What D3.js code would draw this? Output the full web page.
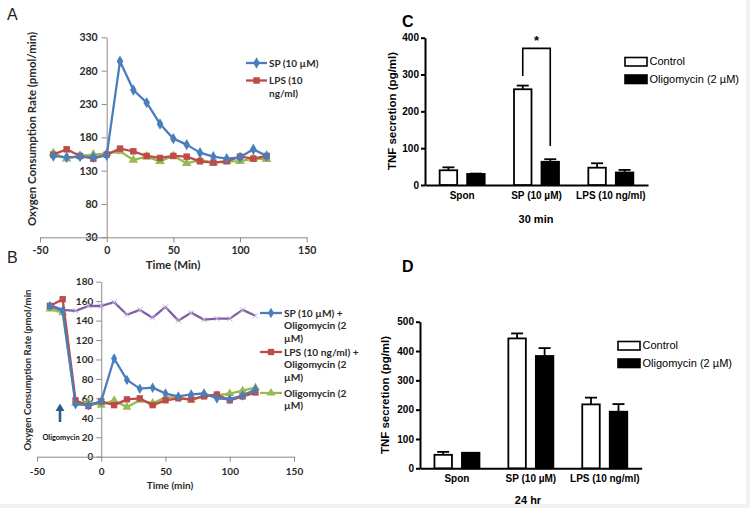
<!DOCTYPE html>
<html><head><meta charset="utf-8">
<script src="https://cdn.jsdelivr.net/npm/d3@7"></script>
<style>body{margin:0;background:#fff}svg{display:block}</style>
</head><body><svg id="c" width="750" height="508"></svg>
<script>
// ---------- data ----------
const timesA = [-40,-30,-20,-10,0,10,20,30,40,50,60,70,80,90,100,110,120];
const spA    = [152,150,151,150,153,294,251,232,200,178,169,157,151,148,150,162,152];
const lpsA   = [154,162,152,148,154,163,159,152,149,152,151,144,142,144,151,148,152];
const vehA   = [156,148,152,154,156,159,146,151,144,152,141,146,142,144,144,148,147];

const timesB    = [-40,-30,-20,-10,0,10,20,30,40,50,60,70,80,90,100,110,120];
const spOligoB  = [155,150,54,53,57,101,79,70,71,65,62,64,65,60,59,63,69];
const lpsOligoB = [155,162,58,52,57,53,59,60,53,58,60,59,62,64,58,62,66];
const oligoB    = [152,148,55,56,53,58,51,58,55,61,61,58,63,63,65,68,71];
const baseB     = [156,151,150,155,155,159,146,151,143,154,140,148,141,142,142,151,145];

const timeTicks = [-50,0,50,100,150];
const yTicksA = [30,80,130,180,230,280,330];
const yTicksB = [0,20,40,60,80,100,120,140,160,180];

const groups = ["Spon","SP (10 µM)","LPS (10 ng/ml)"];
const ctrl30 = [40,260,47],  ctrl30Err = [8,10,12];
const olig30 = [30,63,34],   olig30Err = [1,7,7];
const ctrl24 = [46,443,218], ctrl24Err = [10,17,23];
const olig24 = [53,383,193], olig24Err = [0,27,26];
const yTicksC = [0,100,200,300,400];
const yTicksD = [0,100,200,300,400,500];

// ---------- setup ----------
const svg = d3.select("#c");
svg.append("rect").attr("width",750).attr("height",508).attr("fill","#fff");
svg.append("rect").attr("x",746).attr("y",0).attr("width",4).attr("height",508).attr("fill","#f1f1f1");
svg.append("rect").attr("x",0).attr("y",504).attr("width",750).attr("height",4).attr("fill","#f1f1f1");

const XL = "Lato, 'Liberation Sans', sans-serif";
const GP = "'Liberation Sans', Arial, sans-serif";
const COL = {blue:"#4A7EBB", red:"#BE4B48", green:"#98B954", purple:"#7D60A0"};

function excelAxes(g, x, y, yTicks, yMin, opts){
  const ya = g.append("g").attr("transform",`translate(${x(0)},0)`)
    .call(d3.axisLeft(y).tickValues(yTicks).tickSize(5).tickPadding(opts.yPad).tickSizeOuter(0).tickFormat(d=>String(d)));
  const xa = g.append("g").attr("transform",`translate(0,${y(yMin)})`)
    .call(d3.axisBottom(x).tickValues(timeTicks).tickSize(5).tickPadding(opts.xPad).tickSizeOuter(0).tickFormat(d=>String(d)));
  [ya,xa].forEach(a=>{
    a.selectAll("path,line").attr("stroke","#8a8a8a").attr("stroke-width",1);
    a.selectAll("text").attr("font-family",XL).attr("font-weight","bold")
      .attr("font-size",opts.fs).attr("fill","#2a2a2a");
  });
}

function series(g, x, y, times, vals, color, sym, size, mstroke){
  const line = d3.line().x((d,i)=>x(times[i])).y(d=>y(d));
  g.append("path").datum(vals).attr("d",line).attr("fill","none")
    .attr("stroke",color).attr("stroke-width",2.3).attr("stroke-linejoin","round");
  g.selectAll(null).data(vals).enter().append("path")
    .attr("transform",(d,i)=>`translate(${x(times[i])},${y(d)})`)
    .attr("d",d3.symbol().type(sym).size(size))
    .attr("fill", mstroke ? "none" : color)
    .attr("stroke", mstroke || "none")
    .attr("stroke-width",1);
}

function legendItem(g, x1, x2, yy, color, sym, size, lines, fs, lh){
  g.append("line").attr("x1",x1).attr("x2",x2).attr("y1",yy).attr("y2",yy)
    .attr("stroke",color).attr("stroke-width",2.3);
  g.append("path").attr("transform",`translate(${(x1+x2)/2},${yy})`)
    .attr("d",d3.symbol().type(sym).size(size)).attr("fill",color);
  const t = g.append("text").attr("x",x2+2).attr("y",yy)
    .attr("font-family",XL).attr("font-weight","bold").attr("font-size",fs).attr("fill","#2a2a2a");
  lines.forEach((l,i)=>t.append("tspan").attr("x",x2+2).attr("dy",i===0?"0.35em":lh).text(l));
}

// ---------- Panel A ----------
{
  const g = svg.append("g");
  const x = d3.scaleLinear().domain([-50,150]).range([40,306.7]);
  const y = d3.scaleLinear().domain([30,330]).range([237.3,37.3]);
  excelAxes(g,x,y,yTicksA,30,{yPad:4,xPad:4,fs:10.5});
  series(g,x,y,timesA,vehA,COL.green,d3.symbolTriangle,40);
  series(g,x,y,timesA,lpsA,COL.red,d3.symbolSquare,42);
  series(g,x,y,timesA,spA,COL.blue,d3.symbolDiamond,38);
  legendItem(g,246,267,63,COL.blue,d3.symbolDiamond,38,["SP (10 µM)"],10,13);
  legendItem(g,246,267,80.5,COL.red,d3.symbolSquare,42,["LPS (10","ng/ml)"],10,13);
  g.append("text").attr("transform","translate(31.5,129) rotate(-90)").attr("text-anchor","middle")
    .attr("dy","0.35em").attr("font-family",XL).attr("font-weight","bold").attr("font-size",11.4)
    .attr("fill","#2a2a2a").text("Oxygen Consumption Rate (pmol/min)");
  g.append("text").attr("x",173).attr("y",265).attr("dy","0.35em").attr("text-anchor","middle")
    .attr("font-family",XL).attr("font-weight","bold").attr("font-size",11.5).attr("fill","#2a2a2a").text("Time (Min)");
  g.append("text").attr("x",7).attr("y",20).attr("font-family",GP).attr("font-size",16).attr("fill","#222").text("A");
}

// ---------- Panel B ----------
{
  const g = svg.append("g");
  const x = d3.scaleLinear().domain([-50,150]).range([37,294]);
  const y = d3.scaleLinear().domain([0,180]).range([456.7,281.7]);
  excelAxes(g,x,y,yTicksB,0,{yPad:3,xPad:6,fs:10});
  series(g,x,y,timesB,baseB,COL.purple,d3.symbolX,22,"#c9b8e0");
  series(g,x,y,timesB,oligoB,COL.green,d3.symbolTriangle,34);
  series(g,x,y,timesB,lpsOligoB,COL.red,d3.symbolSquare,40);
  series(g,x,y,timesB,spOligoB,COL.blue,d3.symbolDiamond,32);
  legendItem(g,260,282,313,COL.blue,d3.symbolDiamond,32,["SP (10 µM) +","Oligomycin (2","µM)"],10.2,12.6);
  legendItem(g,260,282,352,COL.red,d3.symbolSquare,40,["LPS (10 ng/ml) +","Oligomycin (2","µM)"],10.2,12.6);
  legendItem(g,260,282,393,COL.green,d3.symbolTriangle,34,["Oligomycin (2","µM)"],10.2,12.6);
  // oligomycin arrow
  g.append("line").attr("x1",60).attr("x2",60).attr("y1",422).attr("y2",410)
    .attr("stroke","#2F5B8A").attr("stroke-width",2.6);
  g.append("path").attr("d","M55.5,411 L60,403.5 L64.5,411 Z").attr("fill","#2F5B8A");
  g.append("text").attr("x",61).attr("y",437).attr("dy","0.35em").attr("text-anchor","middle")
    .attr("font-family",XL).attr("font-weight","bold").attr("font-size",7.4).attr("fill","#111").text("Oligomycin");
  g.append("text").attr("transform","translate(28,370) rotate(-90)").attr("text-anchor","middle")
    .attr("dy","0.35em").attr("font-family",XL).attr("font-weight","bold").attr("font-size",9.6)
    .attr("fill","#2a2a2a").text("Oxygen Consumption Rate (pmol/min");
  g.append("text").attr("x",170).attr("y",485).attr("dy","0.35em").attr("text-anchor","middle")
    .attr("font-family",XL).attr("font-weight","bold").attr("font-size",10).attr("fill","#2a2a2a").text("Time (min)");
  g.append("text").attr("x",7).attr("y",263).attr("font-family",GP).attr("font-size",16).attr("fill","#222").text("B");
}

// ---------- Bar panels ----------
function barPanel(cfg){
  const g = svg.append("g");
  const x = d3.scaleBand().domain(groups).range([cfg.x0,cfg.x1]).padding(0);
  const y = d3.scaleLinear().domain([0,cfg.max]).range([cfg.y0,cfg.yTop]);
  const bw = 19.3, off = 13.75;
  const ya = g.append("g").attr("transform",`translate(${cfg.x0},0)`)
    .call(d3.axisLeft(y).tickValues(cfg.ticks).tickSize(4).tickPadding(2).tickSizeOuter(0));
  const xa = g.append("g").attr("transform",`translate(0,${cfg.y0})`)
    .call(d3.axisBottom(x).tickSize(0).tickPadding(7).tickSizeOuter(0));
  [ya,xa].forEach(a=>{
    a.selectAll("path,line").attr("stroke","#000").attr("stroke-width",2);
    a.selectAll("text").attr("font-family",GP).attr("font-weight","bold").attr("font-size",10).attr("fill","#000");
  });
  const sets = [
    {vals:cfg.ctrl, err:cfg.ctrlErr, dx:-off, fill:"#fff"},
    {vals:cfg.olig, err:cfg.oligErr, dx:off, fill:"#000"}
  ];
  sets.forEach(s=>{
    groups.forEach((c,i)=>{
      const cx = x(c)+x.bandwidth()/2+s.dx;
      const v = s.vals[i], e = s.err[i];
      if(e>0){
        g.append("line").attr("x1",cx).attr("x2",cx).attr("y1",y(v)).attr("y2",y(v+e)).attr("stroke","#000").attr("stroke-width",1.8);
        g.append("line").attr("x1",cx-6).attr("x2",cx+6).attr("y1",y(v+e)).attr("y2",y(v+e)).attr("stroke","#000").attr("stroke-width",1.8);
      }
      g.append("rect").attr("x",cx-bw/2+0.9).attr("y",y(v)).attr("width",bw-1.8).attr("height",cfg.y0-y(v))
        .attr("fill",s.fill).attr("stroke","#000").attr("stroke-width",1.8);
    });
  });
  // legend
  const lg = [{t:"Control",f:"#fff",y:cfg.legY},{t:"Oligomycin (2 µM)",f:"#000",y:cfg.legY+17.5}];
  lg.forEach(d=>{
    g.append("rect").attr("x",cfg.legX).attr("y",d.y-4).attr("width",cfg.legW).attr("height",8.5)
      .attr("fill",d.f).attr("stroke","#000").attr("stroke-width",1.6);
    g.append("text").attr("x",cfg.legX+cfg.legW+2.5).attr("y",d.y).attr("dy","0.36em")
      .attr("font-family",GP).attr("font-size",11).attr("fill","#000").text(d.t);
  });
  g.append("text").attr("transform",`translate(${cfg.titleX},${cfg.titleY}) rotate(-90)`).attr("text-anchor","middle")
    .attr("dy","0.35em").attr("font-family",GP).attr("font-weight","bold").attr("font-size",11.5).text("TNF secretion (pg/ml)");
  g.append("text").attr("x",cfg.subX).attr("y",cfg.subY).attr("dy","0.35em").attr("text-anchor","middle")
    .attr("font-family",GP).attr("font-weight","bold").attr("font-size",11).text(cfg.sub);
  g.append("text").attr("x",cfg.letterX).attr("y",cfg.letterY).attr("font-family",GP).attr("font-weight","bold")
    .attr("font-size",16).text(cfg.letter);
  return {g,x,y,off};
}

const C = barPanel({x0:425,x1:648,y0:185,yTop:37.7,max:400,ticks:yTicksC,
  ctrl:ctrl30,ctrlErr:ctrl30Err,olig:olig30,oligErr:olig30Err,
  legX:625,legW:22,legY:61.5,titleX:391.5,titleY:111,subX:536,subY:219.5,sub:"30 min",letter:"C",letterX:402,letterY:27});
{
  const {g,x,y,off} = C;
  const c = x(groups[1])+x.bandwidth()/2;
  g.append("path").attr("d",`M${c-off},${y(296)} V${y(371)} H${c+off} V${y(106)}`)
    .attr("fill","none").attr("stroke","#000").attr("stroke-width",1.6);
  g.append("text").attr("x",c).attr("y",y(371)-3).attr("text-anchor","middle")
    .attr("font-family",GP).attr("font-weight","bold").attr("font-size",13).text("*");
}
barPanel({x0:420,x1:641.7,y0:468.3,yTop:321.7,max:500,ticks:yTicksD,
  ctrl:ctrl24,ctrlErr:ctrl24Err,olig:olig24,oligErr:olig24Err,
  legX:618,legW:22,legY:345.5,titleX:385,titleY:395,subX:528,subY:500.5,sub:"24 hr",letter:"D",letterX:402,letterY:272});
</script></body></html>
